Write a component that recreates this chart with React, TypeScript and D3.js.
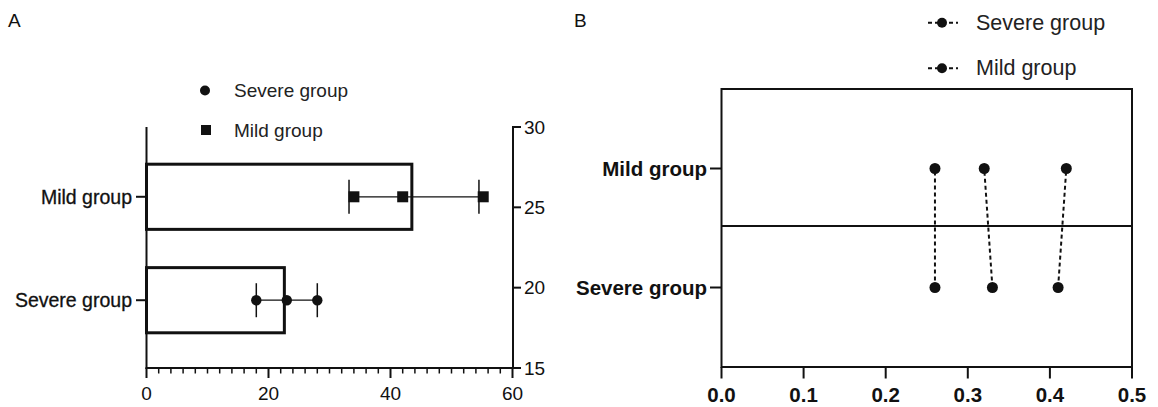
import React from "react";
import * as d3 from "d3";

// ---------- Data ----------
const categories = ["Severe group", "Mild group"];
// Panel A
const barMeans = [22.6, 43.5];
const errLow = [18, 33.2];
const errHigh = [28, 54.5];
const severePointsA = [18, 23, 28];
const mildPointsA = [34, 42, 55.2];
const xTicksA = [0, 20, 40, 60];
const rightTicksA = [15, 20, 25, 30];
// Panel B
const severeB = [0.26, 0.33, 0.41];
const mildB = [0.26, 0.32, 0.42];
const xTicksB = [0, 0.1, 0.2, 0.3, 0.4, 0.5];

const FONT = "'Liberation Sans', Arial, sans-serif";
const INK = "#111";

export default function App() {
  // Panel A scales
  const xA = d3.scaleLinear().domain([0, 60]).range([146.5, 512.5]);
  const yA = d3.scaleBand<string>().domain(categories).range([369, 128]).paddingInner(0.37).paddingOuter(0.35);
  const yRight = d3.scaleLinear().domain([15, 30]).range([368, 127]);
  const minorA = d3.range(0, 61, 2);
  const bw = yA.bandwidth();
  const cy = (c: string) => (yA(c) as number) + bw / 2;
  const capH = 17;

  // Panel B scales
  const xB = d3.scaleLinear().domain([0, 0.5]).range([721.5, 1132]);
  const yB = d3.scalePoint<string>().domain(categories).range([367, 89]).padding(0.668);
  const boxTop = 89, boxBot = 367;
  const midLine = 226;

  const pointsA = [severePointsA, mildPointsA];

  return (
    <svg width={1158} height={407} style={{ position: "absolute", left: 0, top: 0, background: "#fff" }} fontFamily={FONT}>
      {/* Panel labels */}
      <text x={8} y={27} fontSize={19} fill={INK}>A</text>
      <text x={574} y={27} fontSize={19} fill={INK}>B</text>

      {/* ===== Panel A ===== */}
      {/* Legend A */}
      <circle cx={205} cy={90.5} r={5} fill={INK} />
      <text x={234} y={90.5} fontSize={19} fill="#222" dominantBaseline="central">Severe group</text>
      <rect x={201} y={125} width={10} height={10} fill={INK} />
      <text x={234} y={130} fontSize={19} fill="#222" dominantBaseline="central">Mild group</text>

      {/* Bars */}
      {categories.map((c, i) => (
        <rect key={"bar" + c} x={xA(0)} y={yA(c) as number} width={xA(barMeans[i]) - xA(0)} height={bw}
          fill="#fff" stroke={INK} strokeWidth={3} />
      ))}

      {/* Error bars */}
      {categories.map((c, i) => (
        <g key={"err" + c} stroke={INK}>
          <line x1={xA(errLow[i])} x2={xA(errHigh[i])} y1={cy(c)} y2={cy(c)} strokeWidth={1.2} />
          <line x1={xA(errLow[i])} x2={xA(errLow[i])} y1={cy(c) - capH} y2={cy(c) + capH} strokeWidth={1.5} />
          <line x1={xA(errHigh[i])} x2={xA(errHigh[i])} y1={cy(c) - capH} y2={cy(c) + capH} strokeWidth={1.5} />
        </g>
      ))}

      {/* Points A */}
      {pointsA[0].map((v, j) => (
        <circle key={"sp" + j} cx={xA(v)} cy={cy(categories[0])} r={5.2} fill={INK} />
      ))}
      {pointsA[1].map((v, j) => (
        <rect key={"mp" + j} x={xA(v) - 5.5} y={cy(categories[1]) - 5.5} width={11} height={11} fill={INK} />
      ))}

      {/* Left axis A */}
      <line x1={xA(0)} x2={xA(0)} y1={127} y2={369} stroke={INK} strokeWidth={2} />
      {categories.map((c) => (
        <g key={"lt" + c}>
          <line x1={136} x2={xA(0)} y1={cy(c)} y2={cy(c)} stroke={INK} strokeWidth={2} />
          <text x={132} y={cy(c)} fontSize={19.5} textAnchor="end" dominantBaseline="central" fill={INK}
            stroke={INK} strokeWidth={0.3}>{c}</text>
        </g>
      ))}

      {/* Bottom axis A */}
      <line x1={xA(0) - 1} x2={xA(60) + 1} y1={368} y2={368} stroke={INK} strokeWidth={2} />
      {minorA.map((v) => {
        const major = xTicksA.includes(v);
        return <line key={"mt" + v} x1={xA(v)} x2={xA(v)} y1={368} y2={major ? 378 : 373.5} stroke={INK} strokeWidth={major ? 2 : 1.5} />;
      })}
      {xTicksA.map((v) => (
        <text key={"xl" + v} x={xA(v)} y={400} fontSize={19} textAnchor="middle" fill={INK}>{v}</text>
      ))}

      {/* Right axis A */}
      <line x1={513} x2={513} y1={yRight(30)} y2={yRight(15)} stroke={INK} strokeWidth={2} />
      {rightTicksA.map((v) => (
        <g key={"rt" + v}>
          <line x1={512} x2={521} y1={yRight(v)} y2={yRight(v)} stroke={INK} strokeWidth={2} />
          <text x={524} y={yRight(v)} fontSize={19} dominantBaseline="central" fill={INK}>{v}</text>
        </g>
      ))}

      {/* ===== Panel B ===== */}
      {/* Legend B */}
      {categories.map((c, i) => {
        const ly = i === 0 ? 22.7 : 68.3;
        return (
          <g key={"lgB" + c}>
            <line x1={928} x2={958} y1={ly} y2={ly} stroke={INK} strokeWidth={2} strokeDasharray="4,3" />
            <circle cx={942} cy={ly} r={5} fill={INK} />
            <text x={976} y={ly} fontSize={21.5} dominantBaseline="central" fill="#222">{c}</text>
          </g>
        );
      })}

      {/* Box */}
      <rect x={xB(0)} y={boxTop} width={xB(0.5) - xB(0)} height={boxBot - boxTop} fill="none" stroke={INK} strokeWidth={2} />
      <line x1={xB(0)} x2={xB(0.5)} y1={midLine} y2={midLine} stroke={INK} strokeWidth={2} />

      {/* Connecting dotted lines */}
      {severeB.map((v, j) => (
        <line key={"cl" + j} x1={xB(v)} x2={xB(mildB[j])} y1={yB(categories[0]) as number} y2={yB(categories[1]) as number}
          stroke={INK} strokeWidth={2} strokeDasharray="4,3" />
      ))}
      {severeB.map((v, j) => (
        <circle key={"sb" + j} cx={xB(v)} cy={yB(categories[0]) as number} r={5.5} fill={INK} />
      ))}
      {mildB.map((v, j) => (
        <circle key={"mb" + j} cx={xB(v)} cy={yB(categories[1]) as number} r={5.5} fill={INK} />
      ))}

      {/* Y ticks B */}
      {categories.map((c) => (
        <g key={"yb" + c}>
          <line x1={710} x2={xB(0)} y1={yB(c) as number} y2={yB(c) as number} stroke={INK} strokeWidth={2} />
          <text x={707} y={yB(c) as number} fontSize={20.5} fontWeight="bold" textAnchor="end" dominantBaseline="central" fill={INK}>{c}</text>
        </g>
      ))}

      {/* X ticks B */}
      {xTicksB.map((v) => (
        <g key={"xb" + v}>
          <line x1={xB(v)} x2={xB(v)} y1={boxBot} y2={378.5} stroke={INK} strokeWidth={2} />
          <text x={xB(v)} y={401.5} fontSize={20.5} fontWeight="bold" textAnchor="middle" fill={INK}>{d3.format(".1f")(v)}</text>
        </g>
      ))}
    </svg>
  );
}
